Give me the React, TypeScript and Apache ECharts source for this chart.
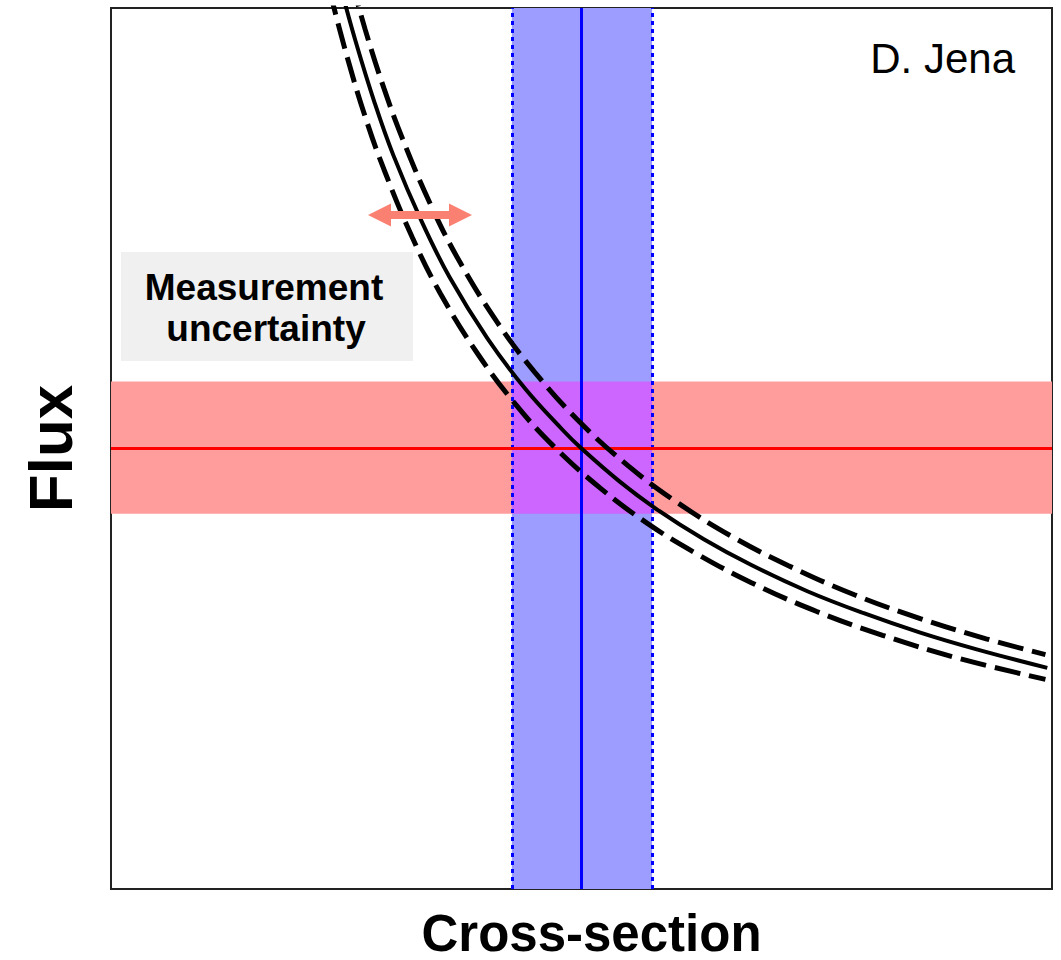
import React, { useEffect, useRef } from "react";
import * as echarts from "echarts";

// Central curve
const solidX = [24.5, 26, 28, 30, 33, 36, 40, 44, 48, 50, 54, 58, 63, 68, 74, 80, 86, 92, 99.5];
const solidY = [102, 96.2, 89.3, 83.3, 75.8, 69.4, 62.5, 56.8, 52.1, 50, 46.3, 43.1, 39.7, 36.8, 33.8, 31.3, 29.1, 27.2, 25.1];
// Upper dashed bound
const upperX = [25.6, 27, 29, 31, 34, 37, 41, 45, 50, 55, 60, 66, 72, 79, 86, 93, 99.3];
const upperY = [103, 97.6, 90.9, 85.1, 77.6, 71.3, 64.4, 58.7, 52.8, 48.0, 44.0, 40.0, 36.7, 33.4, 30.7, 28.4, 26.6];
// Lower dashed bound
const lowerX = [23.2, 25, 27, 29, 32, 35, 39, 43, 47, 52, 57, 62, 68, 75, 82, 90, 99.3];
const lowerY = [102.1, 94.8, 87.7, 81.7, 74.0, 67.6, 60.7, 55.0, 50.3, 45.5, 41.5, 38.2, 34.8, 31.5, 28.8, 26.2, 23.8];

// Measured cross-section (x) and flux (y) with uncertainty bands
const crossSection = 50;
const crossSectionBand = [42.6, 57.5];
const flux = 50;
const fluxBand = [42.6, 57.6];

const FONT = "'Liberation Sans', Arial, Helvetica, sans-serif";

function pairs(xs: number[], ys: number[]) {
  return xs.map((x, i) => [x, ys[i]]);
}

export default function App() {
  const ref = useRef<HTMLDivElement>(null);
  useEffect(() => {
    const chart = echarts.init(ref.current!, null, { renderer: "svg" });
    const axisCommon = {
      type: "value",
      min: 0,
      max: 100,
      axisLine: { show: false },
      axisTick: { show: false },
      axisLabel: { show: false },
      splitLine: { show: false },
      nameLocation: "middle",
    };
    const curve = (name: string, xs: number[], ys: number[], width: number, type: any) => ({
      name,
      type: "line",
      z: 5,
      data: pairs(xs, ys),
      smooth: 0.4,
      showSymbol: false,
      symbol: "none",
      clip: true,
      lineStyle: { color: "#000", width, type },
    });
    chart.setOption({
      animation: false,
      backgroundColor: "#ffffff",
      grid: {
        left: 111,
        right: 9,
        top: 8,
        bottom: 71,
        show: true,
        borderColor: "#222",
        borderWidth: 2,
        backgroundColor: "transparent",
        containLabel: false,
        outerBoundsMode: "none",
      },
      xAxis: {
        ...axisCommon,
        name: "Cross-section",
        nameGap: 24,
        nameTextStyle: {
          fontSize: 51,
          lineHeight: 40,
          fontWeight: "bold",
          color: "#000",
          fontFamily: FONT,
          padding: [0, 0, 0, 20],
        },
      },
      yAxis: {
        ...axisCommon,
        name: "Flux",
        nameGap: 30,
        nameRotate: 90,
        nameTextStyle: {
          fontSize: 62,
          fontWeight: "bold",
          color: "#000",
          fontFamily: FONT,
        },
      },
      series: [
        {
          name: "bands",
          type: "line",
          data: [],
          silent: true,
          z: 1,
          markArea: {
            silent: true,
            data: [
              [{ yAxis: fluxBand[0], itemStyle: { color: "#ff9d9d" } }, { yAxis: fluxBand[1] }],
              [{ xAxis: crossSectionBand[0], itemStyle: { color: "#9d9dff" } }, { xAxis: crossSectionBand[1] }],
              [
                { xAxis: crossSectionBand[0], yAxis: fluxBand[0], itemStyle: { color: "#cc66ff" } },
                { xAxis: crossSectionBand[1], yAxis: fluxBand[1] },
              ],
            ],
          },
          markLine: {
            silent: true,
            symbol: ["none", "none"],
            label: { show: false },
            data: [
              { xAxis: crossSectionBand[0], lineStyle: { color: "#0000ff", width: 3, type: [4, 4] } },
              { xAxis: crossSectionBand[1], lineStyle: { color: "#0000ff", width: 3, type: [4, 4] } },
              { yAxis: flux, lineStyle: { color: "#ff0000", width: 3, type: "solid" } },
              { xAxis: crossSection, lineStyle: { color: "#0000ff", width: 3, type: "solid" } },
            ],
          },
        },
        curve("lower", lowerX, lowerY, 5, [26, 9]),
        curve("center", solidX, solidY, 4, "solid"),
        curve("upper", upperX, upperY, 5, [26, 9]),
      ],
      graphic: [
        {
          type: "rect",
          shape: { x: 121, y: 252, width: 292, height: 109 },
          style: { fill: "#f0f0f0" },
          z: 10,
        },
        {
          type: "text",
          x: 264,
          y: 287,
          z: 11,
          style: {
            text: "Measurement",
            font: `bold 37px ${FONT}`,
            fill: "#000",
            textAlign: "center",
            textVerticalAlign: "middle",
          },
        },
        {
          type: "text",
          x: 266,
          y: 328,
          z: 11,
          style: {
            text: "uncertainty",
            font: `bold 37px ${FONT}`,
            fill: "#000",
            textAlign: "center",
            textVerticalAlign: "middle",
          },
        },
        {
          type: "text",
          x: 1015,
          y: 58,
          z: 11,
          style: {
            text: "D. Jena",
            font: `42px ${FONT}`,
            fill: "#000",
            textAlign: "right",
            textVerticalAlign: "middle",
          },
        },
        {
          type: "polygon",
          z: 12,
          shape: {
            points: [
              [368, 215],
              [391, 203.5],
              [391, 211],
              [449, 211],
              [449, 203.5],
              [472, 215],
              [449, 226.5],
              [449, 219],
              [391, 219],
              [391, 226.5],
            ],
          },
          style: { fill: "#fa8072" },
        },
      ],
    });
    return () => chart.dispose();
  }, []);
  return (
    <div
      ref={ref}
      style={{ position: "fixed", left: 0, top: 0, width: 1061, height: 960 }}
    />
  );
}
